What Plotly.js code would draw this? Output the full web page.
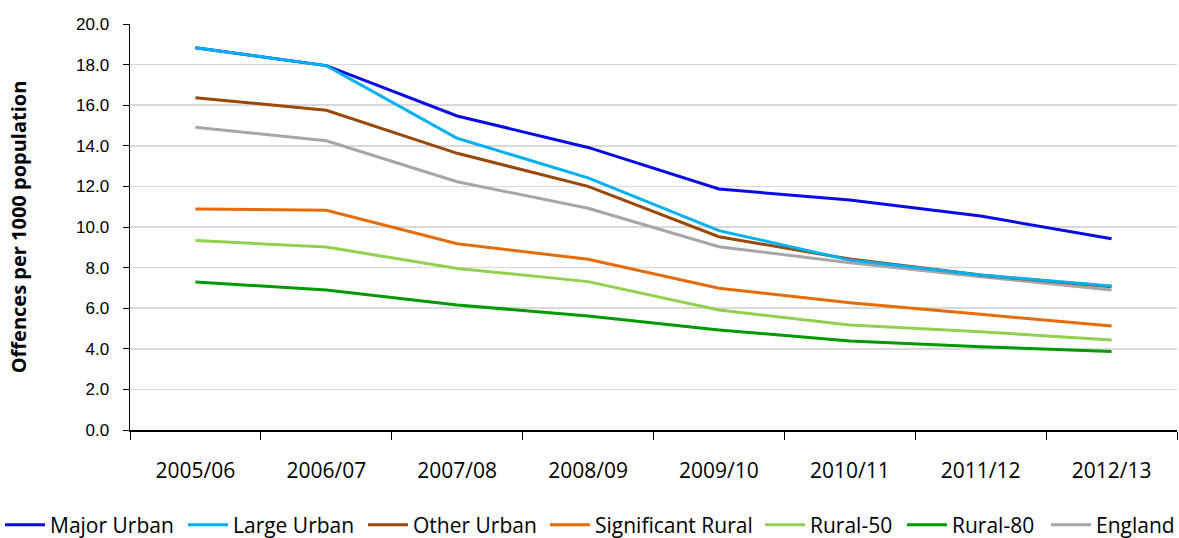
<!DOCTYPE html>
<html><head><meta charset="utf-8">
<script src="https://cdn.plot.ly/plotly-3.0.1.min.js"></script>
<style>body{margin:0;background:#fff}#chart{width:1179px;height:538px}</style>
</head><body><div id="chart"></div>
<script>
const categories = ["2005/06","2006/07","2007/08","2008/09","2009/10","2010/11","2011/12","2012/13"];
const majorUrban = [18.83, 17.95, 15.47, 13.92, 11.87, 11.33, 10.54, 9.42];
const largeUrban = [18.83, 17.95, 14.37, 12.42, 9.82, 8.37, 7.63, 7.09];
const otherUrban = [16.37, 15.75, 13.63, 12.0, 9.52, 8.42, 7.63, 7.06];
const significantRural = [10.89, 10.82, 9.18, 8.41, 6.98, 6.27, 5.7, 5.12];
const rural50 = [9.34, 9.01, 7.96, 7.31, 5.91, 5.17, 4.84, 4.43];
const rural80 = [7.29, 6.9, 6.16, 5.62, 4.93, 4.38, 4.1, 3.87];
const england = [14.91, 14.25, 12.23, 10.92, 9.03, 8.24, 7.55, 6.9];
const seriesNames = ["Major Urban","Large Urban","Other Urban","Significant Rural","Rural-50","Rural-80","England"];
const seriesValues = [majorUrban, largeUrban, otherUrban, significantRural, rural50, rural80, england];
const colors = ["#0a0ae6","#00b0f0","#984807","#e46c0a","#92d050","#009a00","#a6a6a6"];
const yTicks = [0,2,4,6,8,10,12,14,16,18,20];
// left edge (px) of each legend entry's line sample
const legendStarts = [4, 188, 368, 550, 765, 907, 1051];

const font = "Open Sans, Noto Sans, sans-serif";
const legendIds = seriesNames.map((n,i)=> i===0 ? "legend" : "legend"+(i+1));
const traces = seriesNames.map((n,i)=>({x:categories,y:seriesValues[i],type:"scatter",mode:"lines",name:n,
    line:{color:colors[i],width:3},legend:legendIds[i]}));
const order = [6,5,4,3,2,0,1];
const drawn = order.map(i=>traces[i]);

const layout = {
  width:1179,height:538,
  margin:{l:130,r:2,t:24,b:108,autoexpand:false},
  paper_bgcolor:"#fff",plot_bgcolor:"#fff",
  showlegend:true,
  xaxis:{type:"category",tickvals:categories,ticktext:categories,automargin:false,
    range:[-0.5,7.5],showgrid:false,zeroline:false,
    showline:true,linecolor:"#000",linewidth:1.5,
    ticks:"outside",tickson:"boundaries",ticklen:8,tickcolor:"#000",
    ticklabelstandoff:21,
    tickfont:{family:font,size:21,color:"#000"}},
  yaxis:{range:[0,20],tickvals:yTicks,ticktext:yTicks.map(v=>v.toFixed(1)),automargin:false,
    showgrid:true,gridcolor:"#d9d9d9",gridwidth:1.5,zeroline:false,
    showline:true,linecolor:"#000",linewidth:1.5,
    ticks:"outside",ticklen:6,tickcolor:"#000",ticklabelstandoff:10,
    tickfont:{family:"Liberation Sans, Arial, sans-serif",size:17,color:"#000"},
    title:{text:"<b>Offences per 1000 population</b>",standoff:44,
      font:{family:font,size:20,color:"#000"}}}
};
legendIds.forEach((id,i)=>{
  layout[id] = {orientation:"h",xref:"container",yref:"container",
    x:(legendStarts[i]-5)/1179,xanchor:"left",y:0.062,yanchor:"top",
    font:{family:font,size:21,color:"#000"},itemwidth:40,borderwidth:0,bgcolor:"rgba(0,0,0,0)"};
});

Plotly.newPlot("chart", drawn, layout, {displayModeBar:false,staticPlot:true});
</script></body></html>
